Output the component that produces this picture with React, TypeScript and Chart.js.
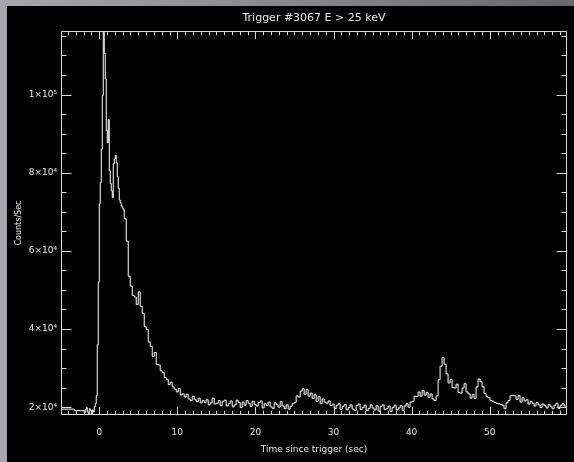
import React, { useEffect, useRef } from "react";
import { Chart, registerables } from "chart.js";

Chart.register(...registerables);

// ---- data (counts/sec vs time since trigger, seconds) ----
// pre-trigger accumulation bins
const preTimes = [-4.9, -3.2];
const preCounts = [20150, 19500];

// fine bins around the trigger (0.128 s)
const fineStart = -1.92;
const fineStep = 0.128;
const fineCounts = [
  19100, 18600, 19400, 19900, 18800, 18300, 19600, 19200, 18200, 19300,
  18800, 20100, 20900, 23000, 36000, 52000, 72000, 77500, 86000, 99700,
  116250, 110500, 104000, 90800, 87700, 93600, 80500, 77200, 75400, 73600,
  82300, 83500, 84400, 82500, 79000, 76000, 73000, 72300, 71500, 71000,
];

// coarser bins for the decay and tail (0.256 s)
const coarseStart = 3.2;
const coarseStep = 0.256;
const coarseCounts = [
  70500, 68200, 62500, 53500, 51000, 48600, 48200, 46300, 49500, 45800,
  44000, 40600, 39900, 36700, 35600, 33000, 34000, 30900, 30800, 29300,
  28900, 27600, 27100, 25800, 26400, 25200, 24600, 23900, 24800, 23100,
  23400, 22600, 23300, 22100, 21700, 22800, 21900, 21400, 22300, 21100,
  21700, 21200, 21900, 20600, 21100, 22300, 20800, 21000, 21700, 20400,
  21500, 21800, 20300, 20900, 21600, 20100, 20600, 21800, 21200, 19900,
  21300, 20500, 21700, 21000, 20200, 21500, 20700, 20300, 21200, 21600,
  19800, 20900, 20400, 21300, 20100, 19700, 21100, 20600, 20000, 21400,
  20300, 19600, 20600, 19500, 20200, 20900, 21200, 22900, 22600, 24100,
  24700, 23300, 24500, 22800, 23600, 22200, 23200, 21500, 22700, 20900,
  22100, 21300, 21000, 21600, 20400, 20800, 19700, 20500, 20900, 19400,
  20200, 20700, 19300, 19900, 20600, 19500, 19200, 20400, 20800, 19400,
  19900, 20500, 19100, 19700, 20600, 19800, 19300, 20400, 19000, 20200,
  20600, 19400, 19700, 20300, 18900, 19900, 20500, 19300, 19800, 20400,
  19200, 20300, 20900, 20000, 21300, 21500, 22800, 22700, 23900, 22800,
  24300, 23100, 23800, 22500, 23400, 22100, 21700, 22900, 27000, 30500,
  32700, 31000, 28500, 26200, 27100, 25000, 24900, 25900, 23800, 23600,
  24900, 26000, 23900, 23400, 22300, 23300, 22200, 25200, 27200, 26500,
  25200, 23500, 22700, 22400, 21700, 21500, 21200, 21000, 20900, 20700,
  20500, 19600, 21100, 21700, 22900, 23000, 22900, 22000, 23000, 21300,
  22400, 21600, 21900, 20800, 21500, 21000, 20300, 21200, 20600, 19900,
  20800, 20400, 19800, 20700, 20200, 19600, 20500, 21000, 19700, 20400,
  20900, 20300,
];

// axes
const xMin = -4.9;
const xMax = 59.9;
const yMin = 18000;
const yMax = 116250;
const xMajorTicks = [0, 10, 20, 30, 40, 50];
const xTickLabels = ["0", "10", "20", "30", "40", "50"];
const yMajorTicks = [20000, 40000, 60000, 80000, 100000];
const yTickLabels = ["2×10⁴", "4×10⁴", "6×10⁴", "8×10⁴", "1×10⁵"];
const xMinorStep = 1;
const yMinorStep = 5000;

const titleText = "Trigger #3067 E > 25 keV";
const xTitle = "Time since trigger (sec)";
const yTitle = "Counts/Sec";

const TEXT = "#e8e8e8";
const AXIS = "#d8d8d8";
const FONT = "'DejaVu Sans', sans-serif";

function buildPoints() {
  const pts: { x: number; y: number }[] = [];
  preTimes.forEach((t, i) => pts.push({ x: t, y: preCounts[i] }));
  fineCounts.forEach((c, i) => pts.push({ x: fineStart + i * fineStep, y: c }));
  coarseCounts.forEach((c, i) => pts.push({ x: coarseStart + i * coarseStep, y: c }));
  return pts;
}

const frameTicks = {
  id: "frameTicks",
  afterDatasetsDraw(chart: any) {
    const { ctx, chartArea: a, scales } = chart;
    const xs = scales.x;
    const ys = scales.y;
    const L = Math.round(a.left) + 0.5;
    const R = Math.round(a.right) - 0.5;
    const T = Math.round(a.top) + 0.5;
    const B = Math.round(a.bottom) - 0.5;
    ctx.save();
    ctx.strokeStyle = AXIS;
    ctx.lineWidth = 1;
    ctx.beginPath();
    ctx.rect(L, T, R - L, B - T);
    const xFirst = Math.ceil(xMin / xMinorStep) * xMinorStep;
    for (let v = xFirst; v <= xMax; v += xMinorStep) {
      const px = Math.round(xs.getPixelForValue(v)) + 0.5;
      const len = xMajorTicks.includes(v) ? 7.7 : 3.8;
      ctx.moveTo(px, B);
      ctx.lineTo(px, B - len);
      ctx.moveTo(px, T);
      ctx.lineTo(px, T + len);
    }
    const yFirst = Math.ceil(yMin / yMinorStep) * yMinorStep;
    for (let v = yFirst; v <= yMax; v += yMinorStep) {
      const py = Math.round(ys.getPixelForValue(v)) + 0.5;
      const len = yMajorTicks.includes(v) ? 10 : 5;
      ctx.moveTo(L, py);
      ctx.lineTo(L + len, py);
      ctx.moveTo(R, py);
      ctx.lineTo(R - len, py);
    }
    ctx.stroke();
    ctx.restore();
  },
};

export default function App() {
  const ref = useRef<HTMLCanvasElement>(null);

  useEffect(() => {
    if (!ref.current) return;
    const chart = new Chart(ref.current, {
      type: "line",
      data: {
        datasets: [
          {
            data: buildPoints(),
            borderColor: "#ffffff",
            borderWidth: 1,
            pointRadius: 0,
            stepped: "after",
            fill: false,
          },
        ],
      },
      options: {
        animation: false,
        responsive: false,
        maintainAspectRatio: false,
        devicePixelRatio: 1,
        layout: { padding: { left: 0, right: 7, top: 0, bottom: 0 } },
        plugins: {
          legend: { display: false },
          tooltip: { enabled: false },
          title: {
            display: true,
            text: titleText,
            color: TEXT,
            fullSize: false,
            font: { family: FONT, size: 11, weight: "normal" },
            padding: { top: 6, bottom: 5.8 },
          },
        },
        scales: {
          x: {
            type: "linear",
            min: xMin,
            max: xMax,
            grid: { display: false, drawTicks: false },
            border: { display: false },
            ticks: {
              color: TEXT,
              font: { family: FONT, size: 9 },
              padding: 12,
              autoSkip: false,
              maxRotation: 0,
              callback: (v: any) => {
                const i = xMajorTicks.indexOf(Number(v));
                return i >= 0 ? xTickLabels[i] : "";
              },
            },
            title: {
              display: true,
              text: xTitle,
              color: TEXT,
              font: { family: FONT, size: 9 },
              padding: { top: 0, bottom: 7 },
            },
            afterBuildTicks: (s: any) => {
              s.ticks = xMajorTicks.map((v) => ({ value: v }));
            },
            afterFit: (s: any) => {
              s.height = 47;
            },
          },
          y: {
            type: "linear",
            min: yMin,
            max: yMax,
            grid: { display: false, drawTicks: false },
            border: { display: false },
            ticks: {
              color: TEXT,
              font: { family: FONT, size: 9 },
              padding: 4,
              autoSkip: false,
              callback: (v: any) => {
                const i = yMajorTicks.indexOf(Number(v));
                return i >= 0 ? yTickLabels[i] : "";
              },
            },
            title: {
              display: true,
              text: yTitle,
              color: TEXT,
              font: { family: FONT, size: 8 },
              padding: { top: 7, bottom: 0 },
            },
            afterBuildTicks: (s: any) => {
              s.ticks = yMajorTicks.map((v) => ({ value: v }));
            },
            afterFit: (s: any) => {
              s.width = 54;
            },
          },
        },
      },
      plugins: [frameTicks],
    });
    return () => chart.destroy();
  }, []);

  return (
    <div
      style={{
        position: "fixed",
        left: 0,
        top: 0,
        width: 574,
        height: 462,
        overflow: "hidden",
        background: "linear-gradient(to right, #a6a6ac, #68686c)",
      }}
    >
      <canvas
        ref={ref}
        width={567}
        height={456}
        style={{
          position: "absolute",
          left: 7,
          top: 6,
          width: 567,
          height: 456,
          background: "#000",
          display: "block",
        }}
      />
    </div>
  );
}
